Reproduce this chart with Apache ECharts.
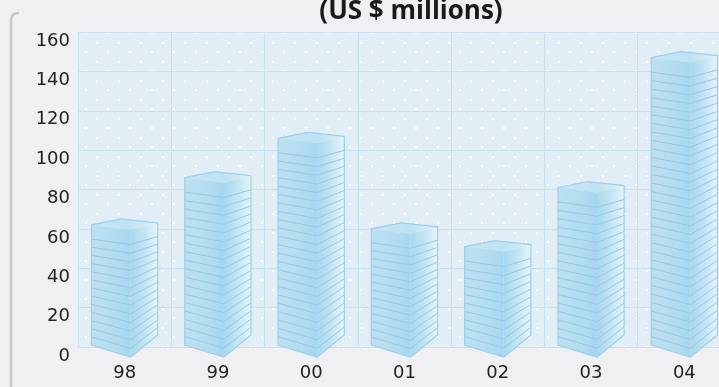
<!DOCTYPE html>
<html><head><meta charset="utf-8">
<script src="https://cdn.jsdelivr.net/npm/echarts@6/dist/echarts.min.js"></script>
<style>html,body{margin:0;padding:0;background:#f0f0f2;}#c{width:719px;height:387px;}</style>
</head><body><div id="c"></div>
<script>
const categories = ['98', '99', '00', '01', '02', '03', '04'];
const values = [62, 86, 106, 60, 51, 81, 147];
const yTicks = [0, 20, 40, 60, 80, 100, 120, 140, 160];
const titleText = '(US $ millions)';

// dotted plot background pattern
const tile = document.createElement('canvas');
tile.width = 22; tile.height = 19;
const tc = tile.getContext('2d');
tc.fillStyle = '#e2eef5'; tc.fillRect(0, 0, 22, 19);
tc.fillStyle = '#ffffff';
tc.fillRect(8, 4, 2, 2);
tc.fillRect(19, 13, 2, 2);

const chart = echarts.init(document.getElementById('c'), null, {renderer: 'canvas'});

function lerp(a, b, f) { return a + (b - a) * f; }

function renderBar(params, api) {
  const top = api.coord([api.value(0), api.value(1)]);
  const y0 = api.coord([api.value(0), 0])[1];
  const bw = api.size([1, 0])[0] * 0.71;
  const xL = top[0] - bw / 2, xR = top[0] + bw / 2;
  const xC = xL + 0.59 * bw, xP = xL + 0.45 * bw;
  const yv = top[1];
  const bL = y0 - 2, bF = y0 + 10, bR = y0 - 12;
  const tL = yv, tF = yv + 5, tR = yv - 2, tB = yv - 6;
  const edge = '#9ad0ea';
  const children = [];
  // top face (blends in)
  children.push({type: 'polygon', shape: {points: [[xL, tL], [xP, tB], [xR, tR], [xC, tF]]},
    style: {fill: new echarts.graphic.LinearGradient(0, 0, 1, 0, [
      {offset: 0, color: '#c6e5f3'}, {offset: 0.6, color: '#bfe2f2'}, {offset: 1, color: '#e0f1f9'}])}});
  children.push({type: 'polygon', shape: {points: [[xL, tL], [xC, tF], [xC, bF], [xL, bL]]},
    style: {fill: new echarts.graphic.LinearGradient(0, 0, 1, 0, [
      {offset: 0, color: '#bde0f1'}, {offset: 0.7, color: '#b1dbef'}, {offset: 1, color: '#a6d6ee'}])}});
  children.push({type: 'polygon', shape: {points: [[xC, tF], [xR, tR], [xR, bR], [xC, bF]]},
    style: {fill: new echarts.graphic.LinearGradient(0, 0, 1, 0, [
      {offset: 0, color: '#a8d8ee'}, {offset: 0.5, color: '#c2e4f3'}, {offset: 1, color: '#e6f4fa'}])}});
  const n = Math.max(1, Math.round((bL - tL) / 8.6));
  for (let k = 1; k < n; k++) {
    const f = k / n;
    children.push({type: 'polyline', shape: {points: [
      [xL, lerp(bL, tL + 6, f)], [xC, lerp(bF, tF + 6, f)], [xR, lerp(bR, tR + 6, f)]]},
      style: {stroke: '#93cae5', lineWidth: 1, fill: null}});
  }
  // outline
  children.push({type: 'polygon', shape: {points: [[xL, tL], [xP, tB], [xR, tR], [xR, bR], [xC, bF], [xL, bL]]},
    style: {fill: null, stroke: edge, lineWidth: 1.2}});
  return {type: 'group', children: children};
}

chart.setOption({
  backgroundColor: '#f0f0f2',
  animation: false,
  title: {text: titleText, left: 406, textAlign: 'center', top: -6,
    textStyle: {fontFamily: 'Open Sans', fontWeight: 'bold', fontSize: 26, color: '#1a1a1a'}},
  grid: {left: 78, width: 653, top: 32, bottom: 40, show: true, borderWidth: 0,
    outerBoundsMode: 'none', containLabel: false,
    backgroundColor: {image: tile, repeat: 'repeat'}},
  graphic: [{type: 'polyline', silent: true,
    shape: {points: [[11, 387], [11, 21], [11.3, 18], [12.3, 15.7], [14, 14], [16.3, 13.2], [19, 13]]},
    style: {stroke: '#c6c6d0', lineWidth: 2.5, fill: null}}],
  xAxis: {type: 'category', data: categories, boundaryGap: true,
    axisLine: {show: true, lineStyle: {color: '#c5e2f0'}},
    axisTick: {show: false},
    splitLine: {show: true, lineStyle: {color: '#c5e2f0', width: 1}},
    axisLabel: {margin: 17, fontFamily: 'DejaVu Sans', fontSize: 18, color: '#222'}},
  yAxis: {type: 'value', min: yTicks[0], max: yTicks[yTicks.length - 1], interval: 20,
    axisLine: {show: false}, axisTick: {show: false},
    splitLine: {show: true, lineStyle: {color: '#c5e2f0', width: 1}},
    axisLabel: {margin: 8, verticalAlign: 'top', fontFamily: 'DejaVu Sans', fontSize: 18, color: '#222'}},
  series: [{type: 'custom', renderItem: renderBar, clip: false,
    encode: {x: 0, y: 1},
    data: categories.map((c, i) => [i, values[i]])}]
});
</script></body></html>
